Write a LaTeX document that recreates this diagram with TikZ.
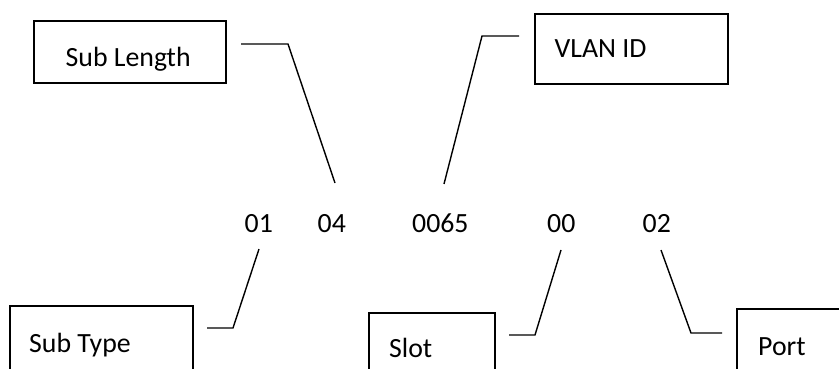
\documentclass[tikz,border=0pt]{standalone}
\usepackage{fontspec}
\setmainfont{Carlito}
\begin{document}
\begin{tikzpicture}[x=1pt,y=-1pt,
  box/.style={draw=black, line width=1.6pt, fill=none, inner sep=0pt, anchor=north west},
  openbox/.style={draw=none, inner sep=0pt, anchor=north west},
  boxline/.style={draw=black, line width=1.6pt},
  txt/.style={inner sep=0pt, anchor=base west, font=\fontsize{27.8}{33}\selectfont},
  lead/.style={draw=black, line width=1.4pt}]
\useasboundingbox (0,0) rectangle (839,369);
% boxes
\node[box, minimum width=192pt, minimum height=62pt] (slbox) at (33,20) {};
\node[txt] (sl) at (65.5,67) {Sub Length};
\node[box, minimum width=193pt, minimum height=70pt] (vlbox) at (534,13) {};
\node[txt] (vl) at (554.5,58) {VLAN ID};
\node[box, minimum width=183pt, minimum height=120pt] (stbox) at (9,305) {};
\node[txt] (st) at (29,352) {Sub Type};
\node[box, minimum width=126pt, minimum height=120pt] (slotbox) at (368,312) {};
\node[txt] (slot) at (389,357) {Slot};
\node[openbox, minimum width=150pt, minimum height=100pt] (portbox) at (737,309) {};
\draw[boxline] (portbox.south west) -- (portbox.north west) -- (portbox.north east);
\node[txt] (port) at (758,355) {Port};
% numbers
\node[txt] (n01) at (244.5,232) {01};
\node[txt] (n04) at (317.5,232) {04};
\node[txt] (n0065) at (412,232) {0065};
\node[txt] (n00) at (547,232) {00};
\node[txt] (n02) at (642.5,232) {02};
% connector ends
\coordinate (a1) at (241,44);  \coordinate (a2) at (288,44);  \coordinate (a3) at (335,183);
\coordinate (b1) at (519,36);  \coordinate (b2) at (482,36);  \coordinate (b3) at (444,184);
\coordinate (c1) at (207,328); \coordinate (c2) at (233,328); \coordinate (c3) at (259,249);
\coordinate (d1) at (509,335); \coordinate (d2) at (535,335); \coordinate (d3) at (561,250);
\coordinate (e1) at (661,250); \coordinate (e2) at (691,333); \coordinate (e3) at (722,333);
\draw[lead] (a1) -- (a2) -- (a3);
\draw[lead] (b1) -- (b2) -- (b3);
\draw[lead] (c1) -- (c2) -- (c3);
\draw[lead] (d1) -- (d2) -- (d3);
\draw[lead] (e1) -- (e2) -- (e3);
\end{tikzpicture}
\end{document}
